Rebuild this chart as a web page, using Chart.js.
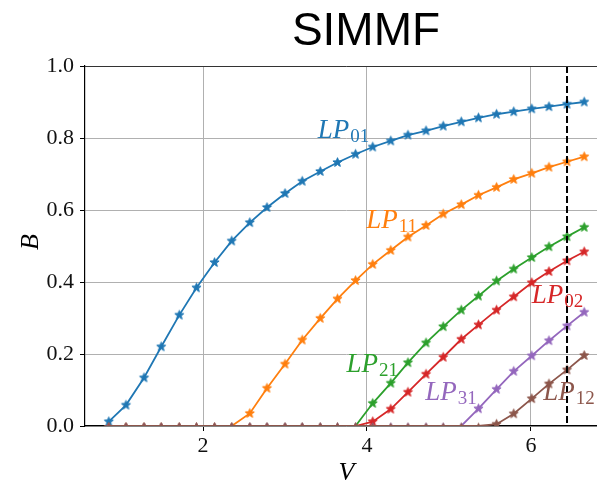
<!DOCTYPE html>
<html>
<head>
<meta charset="utf-8">
<title>SIMMF</title>
<script src="https://cdn.jsdelivr.net/npm/chart.js@4.4.1/dist/chart.umd.min.js"></script>
<style>
  html, body { margin: 0; padding: 0; overflow: hidden; background: #fff; }
  #wrap { position: absolute; left: 0; top: 0; width: 620px; height: 485px; }
</style>
</head>
<body>
<div id="wrap"><canvas id="chart"></canvas></div>
<script>
// Normalised frequency V
const vValues = [0.85, 1.06, 1.28, 1.49, 1.71, 1.92, 2.14, 2.35, 2.57, 2.78, 3.00, 3.21, 3.43, 3.64,
                 3.86, 4.07, 4.29, 4.50, 4.72, 4.93, 5.15, 5.36, 5.58, 5.79, 6.01, 6.22, 6.44, 6.65];

// Normalised propagation constant B per mode
const lp01 = [0.012, 0.058, 0.134, 0.220, 0.308, 0.384, 0.454, 0.514, 0.565, 0.607, 0.646, 0.680, 0.707, 0.732,
              0.755, 0.775, 0.792, 0.808, 0.820, 0.833, 0.845, 0.856, 0.866, 0.873, 0.881, 0.887, 0.894, 0.900];
const lp11 = [0, 0, 0, 0, 0, 0, 0, 0, 0.035, 0.105, 0.172, 0.239, 0.299, 0.353,
              0.404, 0.449, 0.488, 0.525, 0.557, 0.589, 0.615, 0.641, 0.663, 0.685, 0.702, 0.719, 0.734, 0.748];
const lp21 = [0, 0, 0, 0, 0, 0, 0, 0, 0, 0, 0, 0, 0, 0,
              0, 0.063, 0.119, 0.176, 0.231, 0.276, 0.322, 0.361, 0.403, 0.436, 0.468, 0.498, 0.526, 0.552];
const lp02 = [0, 0, 0, 0, 0, 0, 0, 0, 0, 0, 0, 0, 0, 0,
              0, 0.012, 0.047, 0.094, 0.144, 0.191, 0.241, 0.281, 0.322, 0.359, 0.398, 0.429, 0.459, 0.484];
const lp31 = [0, 0, 0, 0, 0, 0, 0, 0, 0, 0, 0, 0, 0, 0,
              0, 0, 0, 0, 0, 0, 0, 0.048, 0.102, 0.152, 0.195, 0.237, 0.278, 0.316];
const lp12 = [0, 0, 0, 0, 0, 0, 0, 0, 0, 0, 0, 0, 0, 0,
              0, 0, 0, 0, 0, 0, 0, 0, 0.005, 0.034, 0.076, 0.117, 0.156, 0.196];

const modeNames = ['01', '11', '21', '02', '31', '12'];
const modeSeries = [lp01, lp11, lp21, lp02, lp31, lp12];

// Operating point marked by the dashed line
const operatingV = 6.44;

const xTicks = [2, 4, 6];
const yTicks = [0, 0.2, 0.4, 0.6, 0.8, 1.0];

const colors = ['#1f77b4', '#ff7f0e', '#2ca02c', '#d62728', '#9467bd', '#8c564b'];

// where each LP label sits (left edge / baseline, in V,B units)
const labelAnchors = [[3.40, 0.80], [3.99, 0.549], [3.75, 0.151], [6.01, 0.341], [4.71, 0.072], [6.15, 0.072]];

const SERIF = '"Liberation Serif", "DejaVu Serif", serif';

// Filled five-point star used as the marker; `drop` pushes it down inside
// its sprite so that, once clipped at the axis, only the upper tip shows
function makeStar(color, r, drop) {
  const size = Math.ceil(r * 2 + 3);
  const c = document.createElement('canvas');
  c.width = c.height = size;
  const ctx = c.getContext('2d');
  ctx.translate(size / 2, size / 2 + drop);
  ctx.beginPath();
  for (let i = 0; i < 10; i++) {
    const rad = i % 2 ? r * 0.42 : r;
    const a = -Math.PI / 2 + i * Math.PI / 5;
    ctx.lineTo(rad * Math.cos(a), rad * Math.sin(a));
  }
  ctx.closePath();
  ctx.fillStyle = color;
  ctx.fill();
  ctx.strokeStyle = color;
  ctx.lineWidth = 1;
  ctx.stroke();
  return c;
}

const datasets = modeSeries.map((series, i) => {
  const star = makeStar(colors[i], 4.8, 0);
  const tip = makeStar(colors[i], 4.8, 2);
  return {
    label: 'LP' + modeNames[i],
    data: vValues.map((v, j) => ({ x: v, y: series[j] })),
    borderColor: colors[i],
    backgroundColor: colors[i],
    borderWidth: 1.8,
    pointStyle: (c) => (c.raw && c.raw.y === 0 ? tip : star),
    pointRadius: 4,
    tension: 0,
    clip: 0,
    order: modeSeries.length - 1 - i
  };
});

// Title, axis labels, LP labels, dashed line and top spine
const overlay = {
  id: 'overlay',
  afterDatasetsDraw(chart) {
    const { ctx, chartArea, scales } = chart;
    const xs = scales.x, ys = scales.y;
    ctx.save();

    // operating point
    const xv = xs.getPixelForValue(operatingV);
    ctx.strokeStyle = '#000';
    ctx.lineWidth = 2;
    ctx.setLineDash([7, 3]);
    ctx.beginPath();
    ctx.moveTo(xv, chartArea.top);
    ctx.lineTo(xv, chartArea.bottom);
    ctx.stroke();
    ctx.setLineDash([]);

    // top spine
    ctx.strokeStyle = '#333';
    ctx.lineWidth = 1;
    ctx.beginPath();
    ctx.moveTo(chartArea.left, chartArea.top + 0.5);
    ctx.lineTo(chartArea.right, chartArea.top + 0.5);
    ctx.stroke();

    // mode labels
    ctx.textAlign = 'left';
    ctx.textBaseline = 'alphabetic';
    labelAnchors.forEach(([v, b], i) => {
      const x = xs.getPixelForValue(v);
      const y = ys.getPixelForValue(b);
      ctx.fillStyle = colors[i];
      ctx.font = 'italic 27px ' + SERIF;
      ctx.fillText('LP', x, y);
      const w = ctx.measureText('LP').width;
      ctx.font = '19px ' + SERIF;
      ctx.fillText(modeNames[i], x + w + 1, y + 4);
    });

    // axis labels
    ctx.fillStyle = '#000';
    ctx.font = 'italic 26px ' + SERIF;
    ctx.textAlign = 'center';
    ctx.textBaseline = 'middle';
    ctx.fillText('V', (chartArea.left + chartArea.right) / 2, 473);
    ctx.save();
    ctx.translate(31, (chartArea.top + chartArea.bottom) / 2 - 4);
    ctx.rotate(-Math.PI / 2);
    ctx.fillText('B', 0, 0);
    ctx.restore();

    // title
    ctx.font = '46px "Liberation Sans", Arial, sans-serif';
    ctx.textBaseline = 'alphabetic';
    ctx.fillText('SIMMF', 366, 45);

    ctx.restore();
  }
};

new Chart(document.getElementById('chart'), {
  type: 'line',
  data: { datasets },
  options: {
    responsive: true,
    maintainAspectRatio: false,
    animation: false,
    layout: { padding: { top: 66, right: 12, left: 0, bottom: 0 } },
    plugins: {
      legend: { display: false },
      tooltip: { enabled: false },
      title: { display: false }
    },
    scales: {
      x: {
        type: 'linear',
        min: 0.56,
        max: 6.94,
        afterBuildTicks: (s) => { s.ticks = xTicks.map(v => ({ value: v })); },
        afterFit: (s) => { s.height = 59; },
        ticks: {
          color: '#111',
          font: { family: SERIF, size: 22 },
          padding: 2,
          maxRotation: 0,
          callback: (v) => String(v)
        },
        grid: { color: '#b0b0b0', lineWidth: 1, tickLength: 5, tickColor: '#000' },
        border: { color: '#000', width: 1.2 }
      },
      y: {
        min: 0,
        max: 1,
        afterBuildTicks: (s) => { s.ticks = yTicks.map(v => ({ value: v })); },
        afterFit: (s) => { s.width = 85; },
        ticks: {
          color: '#111',
          font: { family: SERIF, size: 22 },
          padding: 6,
          callback: (v) => v.toFixed(1)
        },
        grid: { color: '#b0b0b0', lineWidth: 1, tickLength: 5, tickColor: '#000' },
        border: { color: '#000', width: 1.2 }
      }
    }
  },
  plugins: [overlay]
});
</script>
</body>
</html>
